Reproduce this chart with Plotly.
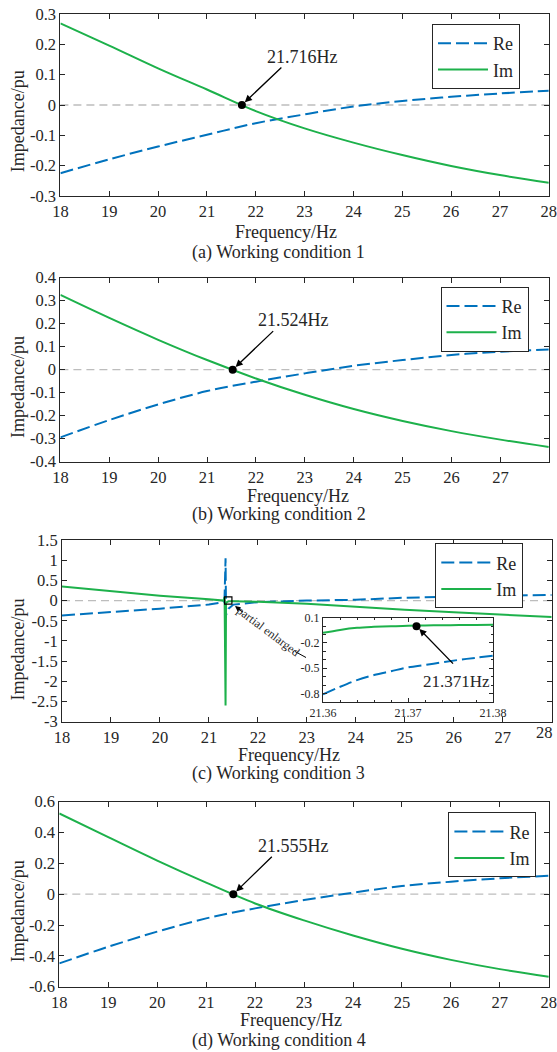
import plotly.graph_objects as go

# ---------------- data ----------------
freq = [18, 19, 20, 21, 22, 23, 24, 25, 26, 27, 28]

re_a = [-0.225, -0.179, -0.137, -0.098, -0.060, -0.031, -0.005, 0.013, 0.027, 0.038, 0.047]
im_a = [0.269, 0.196, 0.121, 0.051, -0.020, -0.077, -0.124, -0.165, -0.201, -0.231, -0.256]

freq_b = [18, 19, 20, 21, 22, 23, 24, 25, 26, 27, 27.99]
re_b = [-0.294, -0.219, -0.151, -0.093, -0.052, -0.016, 0.017, 0.042, 0.064, 0.078, 0.088]
im_b = [0.325, 0.225, 0.130, 0.042, -0.038, -0.109, -0.171, -0.223, -0.267, -0.304, -0.336]

freq_c = [18, 19, 20, 21, 21.2, 21.3, 21.32, 21.34, 21.35, 21.4, 21.5, 22, 23, 24, 25, 26, 27, 28]
re_c = [-0.37, -0.29, -0.20, -0.10, -0.07, -0.04, 0.10, 1.05, -0.36, -0.20, -0.10, -0.04,
        0.00, 0.02, 0.07, 0.09, 0.11, 0.14]
im_c = [0.35, 0.23, 0.12, 0.03, 0.01, 0.00, 0.09, -2.60, -0.05, -0.02, -0.02, -0.03,
        -0.08, -0.16, -0.23, -0.29, -0.35, -0.41]

freq_inset = [21.36, 21.362, 21.364, 21.366, 21.368, 21.37, 21.372, 21.374, 21.376, 21.378, 21.38]
re_inset = [-0.81, -0.72, -0.64, -0.58, -0.535, -0.49, -0.46, -0.43, -0.40, -0.375, -0.35]
im_inset = [-0.08, -0.045, -0.02, -0.008, 0.0, 0.004, 0.008, 0.010, 0.012, 0.014, 0.015]

re_d = [-0.449, -0.341, -0.243, -0.157, -0.092, -0.038, 0.010, 0.053, 0.081, 0.103, 0.120]
im_d = [0.524, 0.370, 0.218, 0.075, -0.060, -0.170, -0.268, -0.354, -0.426, -0.486, -0.535]

res_freq = [21.716, 21.524, 21.371, 21.555]
res_labels = ["21.716Hz", "21.524Hz", "21.371Hz", "21.555Hz"]
captions = ["(a) Working condition 1", "(b) Working condition 2",
            "(c) Working condition 3", "(d) Working condition 4"]

xt_main = [18, 19, 20, 21, 22, 23, 24, 25, 26, 27, 28]
xt_c = [18, 19, 20, 21, 22, 23, 24, 25, 26, 27]   # last label (28) placed separately
yt_a = [-0.3, -0.2, -0.1, 0, 0.1, 0.2, 0.3]
yt_b = [-0.4, -0.3, -0.2, -0.1, 0, 0.1, 0.2, 0.3, 0.4]
yt_c = [-3, -2.5, -2, -1.5, -1, -0.5, 0, 0.5, 1, 1.5]
yt_d = [-0.6, -0.4, -0.2, 0, 0.2, 0.4, 0.6]
xt_inset = [21.36, 21.37, 21.38]
yt_inset = [-0.8, -0.5, -0.2, 0.1]

# ---------------- style ----------------
W, H = 557, 1052
BLUE = "#0072BD"
GREEN = "#1DB14B"
AX = "#262626"
FONT = "Liberation Serif"


def px(x):
    return x / W


def py(y):
    return 1 - y / H


def lbl(vals):
    return [f"{v:g}" for v in vals]


fig = go.Figure()

panels = [
    (freq, re_a, im_a, "x", "y", "legend"),
    (freq_b, re_b, im_b, "x2", "y2", "legend2"),
    (freq_c, re_c, im_c, "x3", "y3", "legend3"),
    (freq, re_d, im_d, "x4", "y4", "legend4"),
]
for i, (f, re, im, xa, ya, lg) in enumerate(panels):
    shape = "linear" if i == 2 else "spline"
    fig.add_trace(go.Scatter(x=f, y=re, mode="lines", name="Re", xaxis=xa, yaxis=ya,
                             legend=lg, line=dict(color=BLUE, width=2, dash="13px,5px", shape=shape)))
    fig.add_trace(go.Scatter(x=f, y=im, mode="lines", name="Im", xaxis=xa, yaxis=ya,
                             legend=lg, line=dict(color=GREEN, width=2, shape=shape)))

# inset
fig.add_trace(go.Scatter(x=freq_inset, y=re_inset, mode="lines", showlegend=False,
                         xaxis="x5", yaxis="y5",
                         line=dict(color=BLUE, width=2, dash="13px,5px", shape="spline")))
fig.add_trace(go.Scatter(x=freq_inset, y=im_inset, mode="lines", showlegend=False,
                         xaxis="x5", yaxis="y5",
                         line=dict(color=GREEN, width=2, shape="spline")))

# resonance markers
marker_axes = [("x", "y"), ("x2", "y2"), ("x5", "y5"), ("x4", "y4")]
for (xa, ya), fr in zip(marker_axes, res_freq):
    fig.add_trace(go.Scatter(x=[fr], y=[0], mode="markers", showlegend=False,
                             xaxis=xa, yaxis=ya,
                             marker=dict(color="black", size=8)))


def axis(domain, rng, tickvals, anchor, size=16.5, ticklen=5, minor=None, ticktext=None):
    d = dict(domain=domain, range=rng, anchor=anchor, showline=True, linecolor=AX,
             linewidth=1, mirror="ticks", ticks="inside", ticklen=ticklen, tickcolor=AX,
             showgrid=False, zeroline=False, tickmode="array", tickvals=tickvals,
             automargin=False, ticklabeloverflow="allow",
             ticktext=ticktext if ticktext is not None else lbl(tickvals),
             tickfont=dict(family=FONT, size=size, color=AX))
    if minor:
        d["minor"] = minor
    return d


xa_dom = [px(60.4), px(548.8)]
xc_dom = [px(62), px(551.7)]
xd_dom = [px(59.3), px(548.8)]

layout = dict(
    width=W, height=H, margin=dict(l=0, r=0, t=0, b=0, autoexpand=False),
    paper_bgcolor="white", plot_bgcolor="white",
    font=dict(family=FONT, color=AX),
    xaxis=axis(xa_dom, [18, 28], xt_main, "y"),
    yaxis=axis([py(196), py(14)], [-0.3, 0.3], yt_a, "x"),
    xaxis2=axis(xa_dom, [18, 27.99], xt_main, "y2"),
    yaxis2=axis([py(461.7), py(277.7)], [-0.4, 0.4], yt_b, "x2"),
    xaxis3=axis(xc_dom, [18, 28], xt_main, "y3", ticktext=lbl(xt_c) + [""]),
    yaxis3=axis([py(721.7), py(540)], [-3, 1.5], yt_c, "x3"),
    xaxis4=axis(xd_dom, [18, 28], xt_main, "y4"),
    yaxis4=axis([py(986.7), py(801.7)], [-0.6, 0.6], yt_d, "x4"),
    xaxis5=axis([px(323), px(493)], [21.36, 21.38], xt_inset, "y5", size=12, ticklen=4,
                minor=dict(dtick=0.002, tick0=21.36, ticks="inside", ticklen=2.5, tickcolor=AX)),
    yaxis5=axis([py(702), py(617.7)], [-0.9, 0.1], yt_inset, "x5", size=12, ticklen=4,
                minor=dict(dtick=0.1, tick0=0.1, ticks="inside", ticklen=2.5, tickcolor=AX)),
)

leg_pos = [("legend", 520, 24), ("legend2", 528.5, 286.7),
           ("legend3", 523.3, 543.3), ("legend4", 536.4, 812.3)]
for name, xr, yt in leg_pos:
    layout[name] = dict(x=px(xr), xanchor="right", y=py(yt), yanchor="top",
                        bgcolor="white", bordercolor=AX, borderwidth=1,
                        font=dict(family=FONT, size=18, color=AX), itemwidth=50,
                        tracegroupgap=0)

fig.update_layout(**layout)

# zero dashed reference lines
for xa, ya in [("x", "y"), ("x2", "y2"), ("x3", "y3"), ("x4", "y4"), ("x5", "y5")]:
    fig.add_shape(type="line", xref=f"{xa} domain", yref=ya, x0=0, x1=1, y0=0, y1=0,
                  line=dict(color="#BDBDBD", width=1.3, dash="8px,5px"), layer="below")

# partial-enlarged box on panel (c)
fig.add_shape(type="rect", xref="x3", yref="y3", x0=21.32, x1=21.47, y0=-0.09, y1=0.09,
              line=dict(color="black", width=1.2), fillcolor="rgba(0,0,0,0)")

ann = []
# last tick label of panel (c), slightly raised/shifted as in the original
ann.append(dict(text=f"{xt_main[-1]:g}", x=xt_main[-1], xref="x3", y=py(732), yref="paper",
                xshift=-7, showarrow=False, font=dict(family=FONT, size=16.5, color=AX),
                xanchor="center", yanchor="middle"))
# captions
for cap, yc in zip(captions, [253, 515, 773, 1040]):
    ann.append(dict(text=cap, x=0.5, y=py(yc), xref="paper", yref="paper", showarrow=False,
                    font=dict(family=FONT, size=18, color=AX), xanchor="center", yanchor="middle"))
# x titles
for xc, yc in zip([286, 298, 289, 291], [232, 496, 755, 1020]):
    ann.append(dict(text="Frequency/Hz", x=px(xc), y=py(yc), xref="paper", yref="paper",
                    showarrow=False, font=dict(family=FONT, size=18, color=AX),
                    xanchor="center", yanchor="middle"))
# y titles
for yc in [121.7, 387.5, 650, 911.7]:
    ann.append(dict(text="Impedance/pu", x=px(17.5), y=py(yc), xref="paper", yref="paper",
                    showarrow=False, textangle=-90, font=dict(family=FONT, size=18, color=AX),
                    xanchor="center", yanchor="middle"))

# resonance arrows + labels
arrows = [("x", "y", 41, -39, 302, 57, 18), ("x2", "y2", 42, -40, 293, 320, 18),
          ("x5", "y5", 38, 39, 456, 681.7, 17), ("x4", "y4", 40, -39, 293, 845.7, 18)]
for (xa, ya, ax, ay, tx, ty, fs), fr, lab in zip(arrows, res_freq, res_labels):
    ann.append(dict(x=fr, y=0, xref=xa, yref=ya, ax=ax, ay=ay, axref="pixel", ayref="pixel",
                    text="", showarrow=True, arrowhead=2, arrowsize=1.1, arrowwidth=1.3,
                    arrowcolor="black", standoff=4))
    ann.append(dict(text=lab, x=px(tx), y=py(ty), xref="paper", yref="paper", showarrow=False,
                    font=dict(family=FONT, size=fs, color=AX), xanchor="center", yanchor="middle"))

# "partial enlarged" label
ann.append(dict(text="partial enlarged", x=px(268), y=py(631), xref="paper", yref="paper",
                showarrow=False, textangle=37, font=dict(family=FONT, size=12, color=AX),
                xanchor="center", yanchor="middle"))
ann.append(dict(x=px(235), y=py(606), xref="paper", yref="paper", ax=9, ay=7,
                axref="pixel", ayref="pixel", text="", showarrow=True, arrowhead=2,
                arrowsize=1, arrowwidth=1.1, arrowcolor="black"))
fig.add_shape(type="line", xref="paper", yref="paper", x0=px(295), y0=py(651.5),
              x1=px(306), y1=py(657.5), line=dict(color="black", width=1))

fig.update_layout(annotations=ann)
fig.write_html("out.html", config={"displayModeBar": False},
               post_script="document.body.style.margin='0px';")
